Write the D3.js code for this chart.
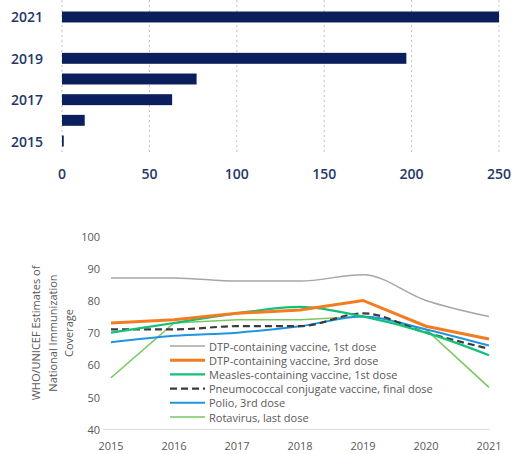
<!DOCTYPE html>
<html><head><meta charset="utf-8">
<script src="https://cdn.jsdelivr.net/npm/d3@7"></script>
<style>body{margin:0;background:#fff}svg{display:block}</style>
</head><body>
<svg id="c" width="515" height="454"></svg>
<script>
// ---- Top bar chart data ----
const barYears = ["2015","2016","2017","2018","2019","2020","2021"];
const barValues = [1, 13, 63, 77, 197, 0, 250];
const barYearLabels = ["2015","2017","2019","2021"];
const barTicks = [0, 50, 100, 150, 200, 250];

// ---- Bottom line chart data ----
const lineYears = [2015, 2016, 2017, 2018, 2019, 2020, 2021];
const dtp1 = [87, 87, 86, 86, 88, 80, 75];
const dtp3 = [73, 74, 76, 77, 80, 72, 68];
const measles = [70, 73, 76, 78, 75, 70, 63];
const pcv = [71, 71, 72, 72, 76, 70, 65];
const polio = [67, 69, 70, 72, 75, 71, 66];
const rota = [56, 73, 74, 74, 75, 71, 53];
const seriesNames = [
  "DTP-containing vaccine, 1st dose",
  "DTP-containing vaccine, 3rd dose",
  "Measles-containing vaccine, 1st dose",
  "Pneumococcal conjugate vaccine, final dose",
  "Polio, 3rd dose",
  "Rotavirus, last dose"
];
const yTicks = [40, 50, 60, 70, 80, 90, 100];
const yTitle = ["WHO/UNICEF Estimates of", "National Immunization", "Coverage"];

const svg = d3.select("#c");
const font = "'Open Sans', 'Noto Sans', sans-serif";

// ===== Top chart =====
const xb = d3.scaleLinear().domain([0, 250]).range([62, 499]);
const yb = d3.scaleBand().domain(barYears.slice().reverse()).range([1.8, 156.2]).paddingInner(0.47).paddingOuter(0.47);
const gTop = svg.append("g");
gTop.selectAll("line.grid").data(barTicks).join("line")
  .attr("x1", d => xb(d)).attr("x2", d => xb(d))
  .attr("y1", 0).attr("y2", 152)
  .attr("stroke", "#bfbfbf").attr("stroke-width", 1).attr("stroke-dasharray", "2,3");
gTop.selectAll("rect").data(barYears).join("rect")
  .attr("x", xb(0)).attr("y", d => yb(d))
  .attr("width", (d, i) => Math.max(0, xb(barValues[i]) - xb(0)))
  .attr("height", yb.bandwidth())
  .attr("fill", "#0b1f5e");
gTop.selectAll("text.yl").data(barYearLabels).join("text")
  .attr("x", 43).attr("y", d => yb(d) + yb.bandwidth() / 2)
  .attr("text-anchor", "end").attr("dominant-baseline", "central")
  .attr("font-family", font).attr("font-size", 14).attr("font-weight", 600)
  .attr("fill", "#1f3868").text(d => d);
gTop.selectAll("text.xl").data(barTicks).join("text")
  .attr("x", d => xb(d)).attr("y", 173)
  .attr("text-anchor", "middle").attr("dominant-baseline", "central")
  .attr("font-family", font).attr("font-size", 14).attr("font-weight", 600)
  .attr("fill", "#1f3868").text(d => d);

// ===== Bottom chart =====
const xl = d3.scalePoint().domain(lineYears).range([111, 489]);
const yl = d3.scaleLinear().domain([40, 100]).range([429.3, 236]);
const bot = svg.append("g");
bot.append("line").attr("x1", 103).attr("x2", 490).attr("y1", yl(40)).attr("y2", yl(40))
  .attr("stroke", "#d9d9d9").attr("stroke-width", 1);
bot.selectAll("text.yt").data(yTicks).join("text")
  .attr("x", 100).attr("y", d => yl(d)).attr("text-anchor", "end").attr("dominant-baseline", "central")
  .attr("font-family", font).attr("font-size", 11).attr("fill", "#595959").text(d => d);
bot.selectAll("text.xt").data(lineYears).join("text")
  .attr("x", d => xl(d)).attr("y", 445).attr("text-anchor", "middle").attr("dominant-baseline", "central")
  .attr("font-family", font).attr("font-size", 11).attr("fill", "#595959").text(d => d);
const tg = bot.append("text").attr("transform", "translate(52,333) rotate(-90)")
  .attr("text-anchor", "middle").attr("font-family", font).attr("font-size", 11).attr("fill", "#595959");
yTitle.forEach((t, i) => tg.append("tspan").attr("x", 0).attr("y", (i - 1) * 16.5).attr("dominant-baseline", "central").text(t));

const series = [
  {name: seriesNames[0], values: dtp1, color: "#a6a6a6", width: 1.5, dash: null, curve: d3.curveMonotoneX},
  {name: seriesNames[1], values: dtp3, color: "#f47b20", width: 3, dash: null, curve: d3.curveLinear},
  {name: seriesNames[2], values: measles, color: "#13c07a", width: 2.2, dash: null, curve: d3.curveMonotoneX},
  {name: seriesNames[3], values: pcv, color: "#3b3b3b", width: 2.2, dash: "7,4", curve: d3.curveMonotoneX},
  {name: seriesNames[4], values: polio, color: "#1f95e0", width: 2, dash: null, curve: d3.curveMonotoneX},
  {name: seriesNames[5], values: rota, color: "#79c85f", width: 1.6, dash: null, curve: d3.curveLinear}
];
const drawOrder = [0, 5, 4, 3, 2, 1];
drawOrder.forEach(k => {
  const s = series[k];
  const line = d3.line().x((d, i) => xl(lineYears[i])).y(d => yl(d)).curve(s.curve);
  bot.append("path").attr("d", line(s.values)).attr("fill", "none")
    .attr("stroke", s.color).attr("stroke-width", s.width)
    .attr("stroke-dasharray", s.dash);
});
// legend
const lg = bot.append("g");
series.forEach((s, i) => {
  const y = 346 + i * 14.2;
  lg.append("line").attr("x1", 170).attr("x2", 205).attr("y1", y).attr("y2", y)
    .attr("stroke", s.color).attr("stroke-width", s.width).attr("stroke-dasharray", s.dash);
  lg.append("text").attr("x", 209).attr("y", y).attr("dominant-baseline", "central")
    .attr("font-family", font).attr("font-size", 11).attr("fill", "#595959").text(s.name);
});
</script>
</body></html>
